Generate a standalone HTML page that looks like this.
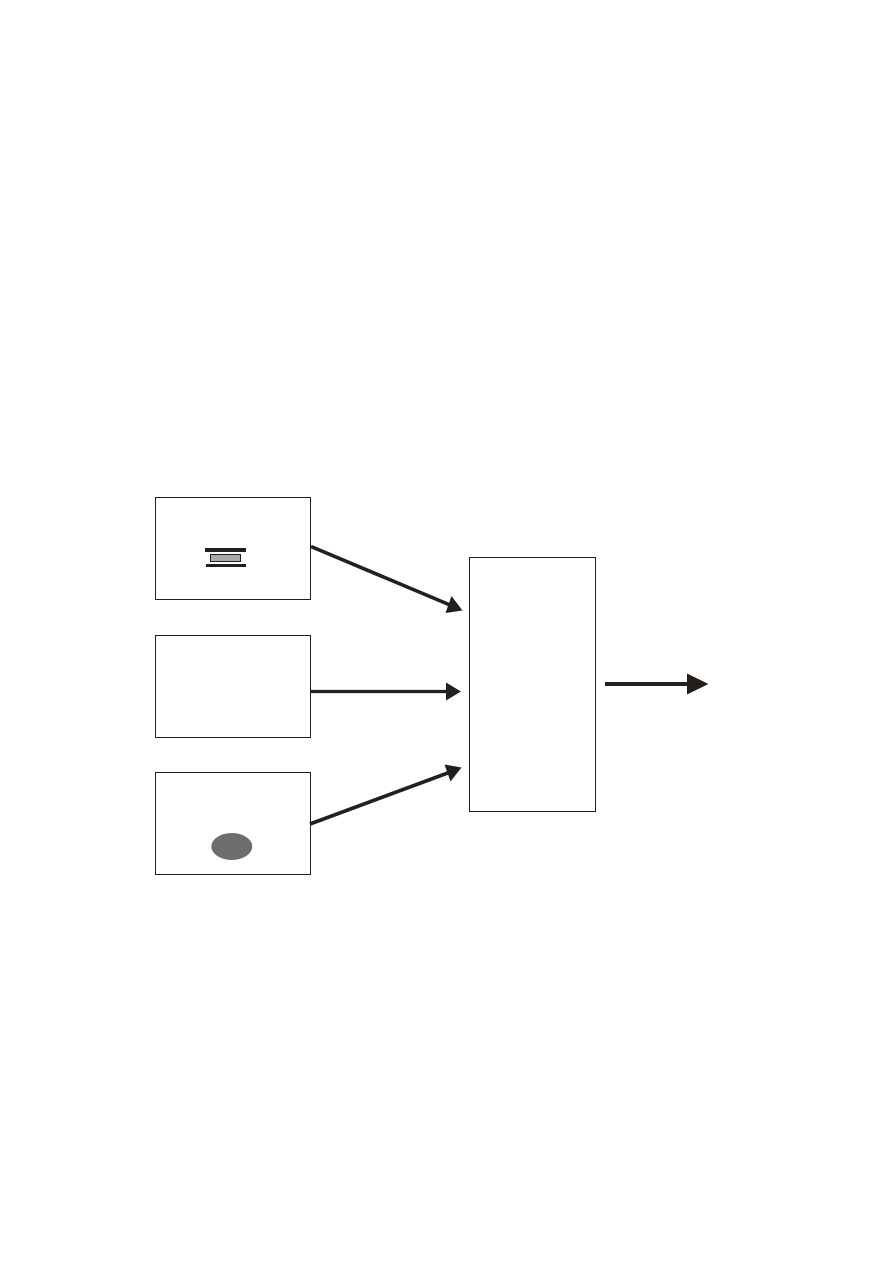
<!DOCTYPE html>
<html>
<head>
<meta charset="utf-8">
<title>Diagram</title>
<style>
html,body{margin:0;padding:0;background:#fff;}
svg{display:block;}
</style>
</head>
<body>
<svg width="893" height="1263" viewBox="0 0 893 1263" xmlns="http://www.w3.org/2000/svg">
<rect width="893" height="1263" fill="#fff"/>
<g fill="none" stroke="#231f1a" stroke-width="1">
<rect x="155.5" y="497.5" width="155" height="102"/>
<rect x="155.5" y="635.5" width="155" height="102"/>
<rect x="155.5" y="772.5" width="155" height="102"/>
<rect x="469.5" y="557.5" width="126" height="254"/>
</g>
<rect x="205" y="548" width="41" height="4" fill="#231f1a"/>
<rect x="206" y="564" width="40" height="3" fill="#231f1a"/>
<rect x="210.5" y="554.5" width="30" height="7" fill="#a9a9a9" stroke="#231f1a" stroke-width="1"/>
<ellipse cx="231.8" cy="846.5" rx="20.5" ry="13.5" fill="#6f6d6e"/>
<g stroke="#231f1a" stroke-width="3.6" fill="none">
<line x1="311" y1="546.5" x2="450" y2="605"/>
<line x1="310" y1="691.5" x2="448" y2="691.5" stroke-width="3.2"/>
<line x1="310" y1="824" x2="449" y2="772.5"/>
<line x1="605" y1="684" x2="690" y2="684" stroke-width="4"/>
</g>
<g fill="#231f1a">
<polygon points="462.5,610.5 451.5,596 445.5,613"/>
<polygon points="461,691.5 446,682.5 446,700.5"/>
<polygon points="461.5,767.5 444.5,764.5 450.5,781.5"/>
<polygon points="708.5,684 687,673.5 687,694.5"/>
</g>
</svg>
</body>
</html>
